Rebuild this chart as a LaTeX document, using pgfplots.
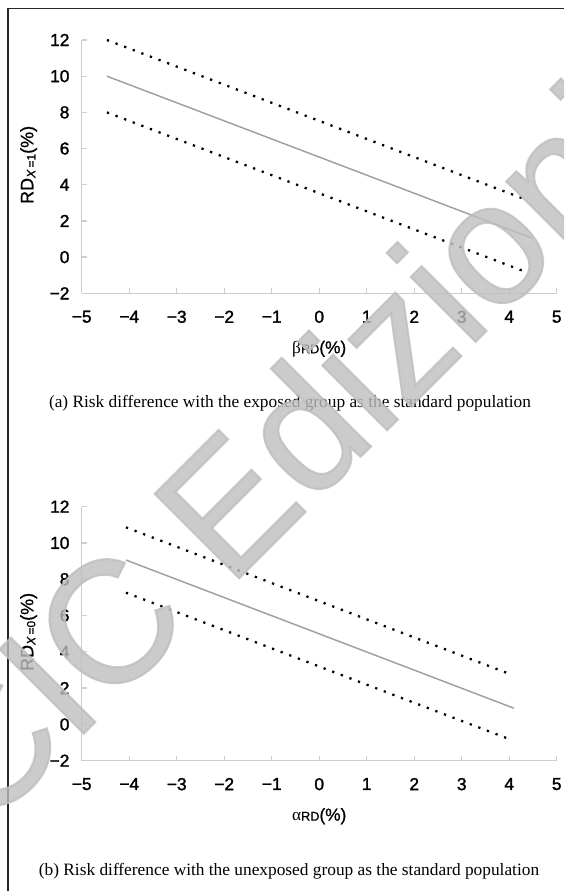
\documentclass[border=0pt]{standalone}
\usepackage{pgfplots}
\pgfplotsset{compat=1.18}
\usepackage{fontspec}
\setmainfont{Liberation Serif}
\newfontfamily\arialfont[FakeBold=1.6]{Liberation Sans}
\newfontfamily\arialfontl[FakeBold=0.8]{Liberation Sans}
\newfontfamily\wmfont[FakeBold=1.2]{Liberation Sans}
\definecolor{axisgray}{RGB}{205,205,205}
\definecolor{linegray}{RGB}{160,160,160}
\definecolor{wmgray}{RGB}{190,190,190}

\pgfplotsset{
  rdaxis/.style={
    scale only axis, width=356.25pt, anchor=south west,
    xmin=-5, xmax=5, ymin=-2, ymax=12,
    axis x line*=bottom, axis y line*=left,
    axis line style={axisgray, line width=1.1pt},
    tick align=inside, major tick length=3.75pt,
    every tick/.style={axisgray, line width=1pt},
    xtick={-5,...,5}, ytick={-2,0,...,12},
    xticklabels={−5,−4,−3,−2,−1,0,1,2,3,4,5},
    yticklabels={−2,0,2,4,6,8,10,12},
    ticklabel style={font=\arialfont\fontsize{13}{13}\selectfont, text=black},
    xticklabel style={yshift=-9.5pt},
    yticklabel style={xshift=-5.7pt},
    ylabel style={at={(axis description cs:-0.102,0.507)}, anchor=base, rotate=0},
    xlabel style={at={(axis description cs:0.5,0)}, anchor=base, yshift=-45pt},
    clip=false,
  },
  dotline/.style={black, line width=1.7pt, dash pattern=on 1.7pt off 5.2pt},
  midline/.style={linegray, line width=1.1pt},
}

\begin{document}
\begin{tikzpicture}[x=1pt,y=1pt]
\useasboundingbox (0,0) rectangle (423,668.25);
\fill[white] (0,0) rectangle (423,668.25);
\draw[line width=1.2pt, black!85] (6.2,0) -- (6.2,662) -- (423,662);

% Panel (a)
\begin{axis}[rdaxis, at={(61.3pt,448.25pt)}, height=190pt,
  ylabel={\arialfontl\fontsize{13.5}{13.5}\selectfont RD\raisebox{-1.5pt}{\fontsize{9}{9}\selectfont\textit{X}\,=1}(\%)},
  xlabel={{\fontsize{13}{13}\selectfont β}{\arialfontl\fontsize{9.5}{9.5}\selectfont RD}{\arialfontl\fontsize{13}{13}\selectfont(\%)}},
]
\addplot[dotline] coordinates {(-4.47,12) (4.38,3.15)};
\addplot[midline] coordinates {(-4.47,10) (4.48,1.05)};
\addplot[dotline] coordinates {(-4.47,8) (4.38,-0.85)};
\end{axis}
\node[anchor=base, font=\fontsize{13}{13}\selectfont] at (217.5,362.25) {(a) Risk difference with the exposed group as the standard population};

% Panel (b)
\begin{axis}[rdaxis, at={(61.3pt,97.75pt)}, height=190.5pt,
  ylabel={\arialfontl\fontsize{13.5}{13.5}\selectfont RD\raisebox{-1.5pt}{\fontsize{9}{9}\selectfont\textit{X}\,=0}(\%)},
  xlabel={{\fontsize{13}{13}\selectfont α}{\arialfontl\fontsize{9.5}{9.5}\selectfont RD}{\arialfontl\fontsize{13}{13}\selectfont(\%)}},
]
\addplot[dotline] coordinates {(-4.07,10.86) (4.05,2.74)};
\addplot[midline] coordinates {(-4.07,9.06) (4.1,0.89)};
\addplot[dotline] coordinates {(-4.07,7.26) (4.05,-0.86)};
\end{axis}
\node[anchor=base, font=\fontsize{13}{13}\selectfont] at (216.75,12) {(b) Risk difference with the unexposed group as the standard population};

% Watermark
\begin{scope}
\clip (0,0) rectangle (423,668.25);
\node[rotate=45, font=\wmfont\fontsize{130}{130}\selectfont, text=wmgray, text opacity=0.8] at (208,329) {CIC Edizioni};
\end{scope}
\end{tikzpicture}
\end{document}
